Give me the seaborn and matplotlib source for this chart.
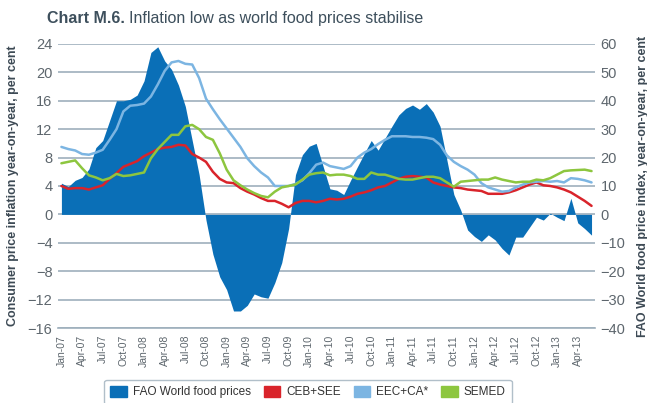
import pandas as pd
import seaborn as sns
import matplotlib.pyplot as plt
from matplotlib.patches import Patch

# Monthly data, Jan-07 to Jun-13
months = pd.date_range("2007-01-01", periods=78, freq="MS")

# FAO World food price index, year-on-year, per cent (right axis)
fao = [11, 9.8, 12, 13, 16, 23.5, 26, 33, 40, 40, 40.5, 42, 47, 57, 59, 54,
       51, 45.5, 38, 26, 14, -2, -14, -22, -26.5, -34, -34, -32, -28, -29,
       -29.5, -24, -17, -5, 14, 21, 24, 25, 17, 9, 8.5, 7, 12, 16.8, 21.5, 26,
       22.6, 26.8, 31, 35, 37.3, 38.5, 37, 39, 36, 31, 19, 7, 1.5, -5.5, -7.8,
       -9.5, -7.2, -9, -12, -14.3, -8, -8, -4.5, -1, -2, 0.4, -1, -2.2, 5.7,
       -3, -5, -7.3]

# Consumer price inflation, year-on-year, per cent (left axis)
ceb_see = [4.0, 3.6, 3.7, 3.7, 3.5, 3.8, 4.1, 5.0, 5.8, 6.7, 7.1, 7.5, 8.2,
           8.7, 9.2, 9.4, 9.5, 9.8, 9.7, 8.5, 8.0, 7.4, 6.0, 5.0, 4.5, 4.4,
           3.7, 3.2, 2.8, 2.3, 1.9, 1.9, 1.5, 1.0, 1.6, 1.9, 1.9, 1.7, 1.9,
           2.2, 2.1, 2.2, 2.5, 2.9, 3.1, 3.4, 3.8, 4.0, 4.5, 5.0, 5.3, 5.4,
           5.3, 5.2, 4.5, 4.2, 4.0, 3.8, 3.7, 3.5, 3.4, 3.3, 2.9, 2.9, 2.9,
           3.1, 3.4, 3.8, 4.2, 4.5, 4.1, 4.0, 3.8, 3.5, 3.1, 2.5, 1.9, 1.2]
eec_ca = [9.5, 9.2, 9.0, 8.5, 8.4, 8.7, 9.1, 10.5, 12.0, 14.5, 15.3, 15.4,
          15.6, 16.6, 18.3, 20.2, 21.4, 21.6, 21.2, 21.1, 19.2, 16.3, 14.8,
          13.4, 12.1, 10.8, 9.5, 7.9, 6.8, 5.9, 5.2, 4.0, 4.0, 4.0, 4.3, 4.8,
          5.8, 7.0, 7.3, 6.8, 6.6, 6.4, 6.8, 8.0, 8.7, 9.2, 9.9, 10.5, 11.0,
          11.0, 11.0, 10.9, 10.9, 10.8, 10.6, 9.8, 8.3, 7.4, 6.8, 6.3, 5.6,
          4.4, 3.8, 3.5, 3.2, 3.3, 3.8, 4.2, 4.5, 4.6, 4.7, 4.6, 4.7, 4.5,
          5.1, 5.0, 4.8, 4.5]
semed = [7.2, 7.4, 7.6, 6.5, 5.5, 5.2, 4.8, 5.1, 5.7, 5.4, 5.5, 5.7, 5.9,
         7.9, 9.2, 10.2, 11.2, 11.2, 12.4, 12.6, 12.0, 10.9, 10.5, 8.6, 6.3,
         4.8, 4.1, 3.5, 3.0, 2.6, 2.4, 3.2, 3.8, 4.0, 4.2, 4.9, 5.6, 5.8, 5.9,
         5.5, 5.6, 5.6, 5.4, 5.0, 5.0, 5.9, 5.6, 5.6, 5.3, 5.0, 4.9, 4.9, 5.1,
         5.3, 5.3, 5.1, 4.5, 3.9, 4.6, 4.7, 4.8, 4.9, 4.9, 5.2, 4.9, 4.7, 4.5,
         4.6, 4.6, 4.9, 4.8, 5.1, 5.6, 6.1, 6.2, 6.25, 6.3, 6.1]

series_names = ["CEB+SEE", "EEC+CA*", "SEMED"]
colors = {"FAO World food prices": "#0a6fb7", "CEB+SEE": "#d9242b",
          "EEC+CA*": "#7cb5e2", "SEMED": "#8dc63f"}

idx = list(range(len(months)))
df = pd.DataFrame({"idx": idx, "CEB+SEE": ceb_see, "EEC+CA*": eec_ca, "SEMED": semed})
long_df = df.melt(id_vars="idx", var_name="region", value_name="cpi")

sns.set_style("white")
plt.rcParams['font.family'] = ['Liberation Sans Narrow', 'Liberation Sans', 'DejaVu Sans']

txt = "#5d666d"
grid_c = "#9eafbc"

fig = plt.figure(figsize=(6.47, 4.03), dpi=100)
ax = fig.add_axes([0.0896, 0.186, 0.830, 0.705])
ax2 = ax.twinx()
ax.set_zorder(2)
ax2.set_zorder(1)
ax.patch.set_visible(False)

# FAO area on right axis
ax2.fill_between(idx, 0, fao, color=colors["FAO World food prices"], linewidth=0, zorder=2)
ax2.set_ylim(-40, 60)
ax2.set_yticks(range(-40, 61, 10))
for y in range(-40, 61, 10):
    ax2.axhline(y, color=grid_c, lw=1.2, zorder=1)

# CPI lines on left axis
sns.lineplot(data=long_df, x="idx", y="cpi", hue="region", hue_order=series_names,
             palette=colors, linewidth=1.8, legend=False, ax=ax)
ax.set_ylim(-16, 24)
ax.set_yticks(range(-16, 25, 4))
ax.set_xlim(-0.5, 77.5)

# x ticks every quarter, minor every month
ax.set_xticks(idx[::3])
ax.set_xticklabels([m.strftime("%b-%y") for m in months[::3]], rotation=90,
                   fontsize=7.5, color=txt)
ax.set_xticks([i - 0.5 for i in idx] + [77.5], minor=True)
ax.tick_params(axis="x", which="major", length=0, pad=5)
ax.tick_params(axis="x", which="minor", length=4, color=grid_c, width=0.8)
ax.tick_params(axis="y", length=0, labelsize=10.5, labelcolor=txt, pad=4)
ax2.tick_params(axis="y", length=0, labelsize=10.5, labelcolor=txt, pad=4)

for a in (ax, ax2):
    for s in ["top", "left", "right", "bottom"]:
        a.spines[s].set_visible(False)
ax.spines["bottom"].set_visible(True)
ax.spines["bottom"].set_color(grid_c)
ax.spines["bottom"].set_linewidth(1.2)

ax.set_xlabel("")
ax.set_ylabel("Consumer price inflation year-on-year, per cent", fontsize=9,
              fontweight="bold", color="#3d4a55", labelpad=6, family=['Liberation Sans', 'DejaVu Sans'])
ax2.set_ylabel("FAO World food price index, year-on-year, per cent", fontsize=9,
               fontweight="bold", color="#3d4a55", labelpad=8, family=['Liberation Sans', 'DejaVu Sans'])

# Title
fig.text(0.073, 0.955, "Chart M.6.", fontsize=11.5, fontweight="bold", color="#3d4f5c",
         va="center", ha="left")
fig.text(0.199, 0.955, "Inflation low as world food prices stabilise", fontsize=11.5,
         color="#3d4f5c", va="center", ha="left")

# Legend
labels = ["FAO World food prices"] + series_names
handles = [Patch(facecolor=colors[l], edgecolor=colors[l]) for l in labels]
leg = fig.legend(handles, labels, loc="center", bbox_to_anchor=(0.476, 0.027), ncol=4,
                 fontsize=8.5, frameon=True, fancybox=True, handlelength=1.4,
                 handleheight=1.1, columnspacing=1.1, handletextpad=0.5,
                 borderpad=0.5, labelcolor="#333333")
leg.get_frame().set_edgecolor("#9eafbc")
leg.get_frame().set_linewidth(1.0)

fig.savefig("out.png", dpi=100)
